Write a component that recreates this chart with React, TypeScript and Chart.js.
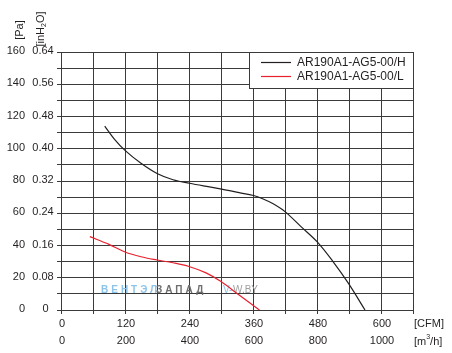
import React, { useEffect, useRef } from "react";
import { Chart, registerables } from "chart.js";

Chart.register(...registerables);

const cfmTicks = [0, 120, 240, 360, 480, 600];
const m3hTicks = ["0", "200", "400", "600", "800", "1000"];
const paTicks = [0, 20, 40, 60, 80, 100, 120, 140, 160];
const inH2OTicks = ["0", "0.08", "0.16", "0.24", "0.32", "0.40", "0.48", "0.56", "0.64"];

const seriesNames = ["AR190A1-AG5-00/H", "AR190A1-AG5-00/L"];
const seriesColors = ["#231f20", "#e8212e"];

const hCfm = [82, 100, 120, 150, 181, 210, 241, 270, 301, 334, 361, 378, 397, 420, 450, 480, 509, 539, 570];
const hPa = [114, 106, 99, 91, 84.5, 80.8, 78.6, 76.8, 75, 72.8, 71, 69, 66, 61, 51.7, 42.4, 30.5, 16.5, 0];

const lCfm = [54, 90, 120, 150, 180, 210, 240, 272, 300, 334, 372];
const lPa = [45.5, 40.7, 36, 33, 31, 29.3, 27, 23, 17.6, 9.3, 0];

const FONT = '"Liberation Sans", Arial, sans-serif';
const GRID = "#3a3a3a";

const textPlugin = {
  id: "textPlugin",
  beforeDatasetsDraw(chart: any) {
    const ctx = chart.ctx;
    ctx.save();
    ctx.font = `bold 10px ${FONT}`;
    ctx.textBaseline = "middle";
    ctx.textAlign = "left";
    (ctx as any).letterSpacing = "3px";
    ctx.fillStyle = "#8cc3ea";
    ctx.fillText("ВЕНТЭЛ", 101, 290);
    ctx.fillStyle = "#6e6e6e";
    ctx.fillText("ЗАПАД", 156, 290);
    (ctx as any).letterSpacing = "0px";
    ctx.font = `10px ${FONT}`;
    ctx.fillStyle = "#8cc3ea";
    ctx.fillText("V-", 223, 290);
    ctx.fillStyle = "#a0a0a0";
    ctx.fillText("W.BY", 233, 290);
    ctx.restore();
  },
  afterDraw(chart: any) {
    const ctx = chart.ctx;
    const xs = chart.scales.x;
    const ys = chart.scales.y;
    ctx.save();
    ctx.fillStyle = "#231f20";
    ctx.font = `11px ${FONT}`;
    ctx.textBaseline = "middle";
    paTicks.forEach((v, i) => {
      const y = ys.getPixelForValue(v);
      ctx.textAlign = "right";
      ctx.fillText(String(v), 25, y - 1);
      ctx.textAlign = "center";
      ctx.fillText(inH2OTicks[i], i === 0 ? 45.5 : 43, y - 1);
    });
    cfmTicks.forEach((v, i) => {
      const x = xs.getPixelForValue(v);
      ctx.textAlign = "center";
      ctx.fillText(String(v), x + 1, 324);
      ctx.fillText(m3hTicks[i], x + 1, 341);
    });
    ctx.textAlign = "left";
    ctx.fillText("[CFM]", 414, 324);
    ctx.fillText("[m", 414, 342);
    const w = ctx.measureText("[m").width;
    ctx.font = `7px ${FONT}`;
    ctx.fillText("3", 414 + w, 337);
    const w3 = ctx.measureText("3").width;
    ctx.font = `11px ${FONT}`;
    ctx.fillText("/h]", 414 + w + w3, 342);

    ctx.save();
    ctx.translate(20, 30);
    ctx.rotate(-Math.PI / 2);
    ctx.textAlign = "center";
    ctx.fillText("[Pa]", 0, 0);
    ctx.restore();

    ctx.save();
    ctx.translate(41, 29);
    ctx.rotate(-Math.PI / 2);
    ctx.textAlign = "left";
    const p1 = "[inH";
    const p3 = "O]";
    const w1 = ctx.measureText(p1).width;
    ctx.font = `7px ${FONT}`;
    const w2 = ctx.measureText("2").width;
    ctx.font = `11px ${FONT}`;
    const wt = w1 + w2 + ctx.measureText(p3).width;
    let cx = -wt / 2;
    ctx.fillText(p1, cx, 0);
    cx += w1;
    ctx.font = `7px ${FONT}`;
    ctx.fillText("2", cx, 3);
    cx += w2;
    ctx.font = `11px ${FONT}`;
    ctx.fillText(p3, cx, 0);
    ctx.restore();

    ctx.fillStyle = "#ffffff";
    ctx.fillRect(249.5, 52.5, 164, 36);
    ctx.strokeStyle = GRID;
    ctx.lineWidth = 1;
    ctx.strokeRect(249.5, 52.5, 164, 36);
    ctx.font = `12px ${FONT}`;
    ctx.textAlign = "left";
    seriesNames.forEach((name, i) => {
      const y = 62 + i * 14;
      ctx.strokeStyle = seriesColors[i];
      ctx.lineWidth = 1.2;
      ctx.beginPath();
      ctx.moveTo(261, y + 0.5);
      ctx.lineTo(291, y + 0.5);
      ctx.stroke();
      ctx.fillStyle = "#231f20";
      ctx.fillText(name, 297, y + 0.5);
    });
    ctx.restore();
  },
};

export default function App() {
  const ref = useRef<HTMLCanvasElement | null>(null);
  useEffect(() => {
    if (!ref.current) return;
    const toPts = (xs: number[], ys: number[]) => xs.map((x, i) => ({ x, y: ys[i] }));
    const chart = new Chart(ref.current, {
      type: "line",
      data: {
        datasets: [
          {
            label: seriesNames[0],
            data: toPts(hCfm, hPa),
            borderColor: seriesColors[0],
            borderWidth: 1.2,
            pointRadius: 0,
            tension: 0.35,
            fill: false,
          },
          {
            label: seriesNames[1],
            data: toPts(lCfm, lPa),
            borderColor: seriesColors[1],
            borderWidth: 1.2,
            pointRadius: 0,
            tension: 0.35,
            fill: false,
          },
        ],
      },
      options: {
        responsive: false,
        animation: false,
        devicePixelRatio: 1,
        layout: { padding: { left: 57, right: 39, top: 52, bottom: 39 } },
        plugins: { legend: { display: false }, tooltip: { enabled: false } },
        scales: {
          x: {
            type: "linear",
            min: 0,
            max: 660,
            ticks: { stepSize: 60, display: false },
            grid: { color: GRID, lineWidth: 1, drawTicks: true, tickLength: 4 },
            border: { display: true, color: GRID },
          },
          y: {
            type: "linear",
            min: 0,
            max: 160,
            ticks: { stepSize: 10, display: false },
            grid: { color: GRID, lineWidth: 1, drawTicks: true, tickLength: 4 },
            border: { display: true, color: GRID },
          },
        },
      },
      plugins: [textPlugin],
    });
    return () => chart.destroy();
  }, []);
  return (
    <div style={{ position: "fixed", left: 0, top: 0, width: 452, height: 353, background: "#fff" }}>
      <canvas ref={ref} width={452} height={353} style={{ width: 452, height: 353, display: "block" }} />
    </div>
  );
}
